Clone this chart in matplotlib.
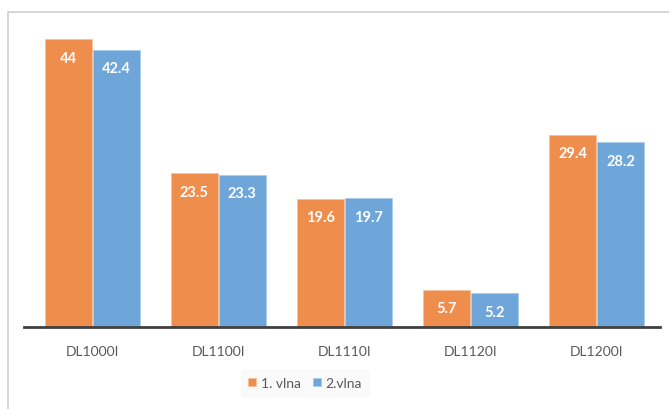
import matplotlib
matplotlib.use("Agg")
import matplotlib.pyplot as plt
from matplotlib.patches import Rectangle
import numpy as np

categories = ["DL1000I", "DL1100I", "DL1110I", "DL1120I", "DL1200I"]
wave1 = [44, 23.5, 19.6, 5.7, 29.4]
wave2 = [42.4, 23.3, 19.7, 5.2, 28.2]
series_names = ["1. vlna", "2.vlna"]

plt.rcParams['font.family'] = ['Lato', 'DejaVu Sans']

W, H = 669, 410
fig = plt.figure(figsize=(W / 100, H / 100), dpi=100)

# outer chart frame (extends beyond right/bottom edges)
fig.patches.append(Rectangle((8 / W, -0.1), 1.2, 1 - 13 / H + 0.1,
                             transform=fig.transFigure, fill=False,
                             edgecolor="#d0d0d0", linewidth=1.2))

ax = fig.add_axes([29 / W, 1 - 328 / H, (660 - 29) / W, (328 - 27) / H])
x = np.arange(len(categories))
bw = 0.372
gap = 0.008
c1, c2 = "#ef8d4d", "#6fa6d9"
b1 = ax.bar(x - bw / 2 - gap / 2, wave1, bw, color=c1, edgecolor="#f6c29e", linewidth=0.6, label=series_names[0])
b2 = ax.bar(x + bw / 2 + gap / 2, wave2, bw, color=c2, edgecolor="#a9cbeb", linewidth=0.6, label=series_names[1])

for bars, vals in ((b1, wave1), (b2, wave2)):
    for r, v in zip(bars, vals):
        ax.annotate(f"{v:g}", (r.get_x() + r.get_width() / 2, v),
                    xytext=(0, -13.5), textcoords="offset points",
                    ha="center", va="center", color="white",
                    fontsize=10.5, fontweight="bold")

ax.set_xlim(-0.5, len(categories) - 0.5)
ax.set_ylim(0, 46)
ax.set_yticks([])
for s in ("top", "right", "left"):
    ax.spines[s].set_visible(False)
ax.spines["bottom"].set_color("#404040")
ax.spines["bottom"].set_linewidth(2)
ax.spines["bottom"].set_bounds(-0.54, len(categories) - 0.5)
ax.set_xticks(x)
ax.set_xticklabels(categories, fontsize=10, color="#595959")
ax.tick_params(axis="x", length=0, pad=13)

leg = fig.legend(handles=[b1, b2], labels=series_names, loc="center",
                 bbox_to_anchor=(305 / W, 1 - 384 / H), ncol=2, frameon=True,
                 fontsize=10, handlelength=0.55, handleheight=0.55,
                 handletextpad=0.35, columnspacing=0.9, borderpad=0.5)
leg.get_frame().set_facecolor("#f9f9f9")
leg.get_frame().set_edgecolor("#f9f9f9")
for t in leg.get_texts():
    t.set_color("#595959")

fig.savefig("out.png", dpi=100)
